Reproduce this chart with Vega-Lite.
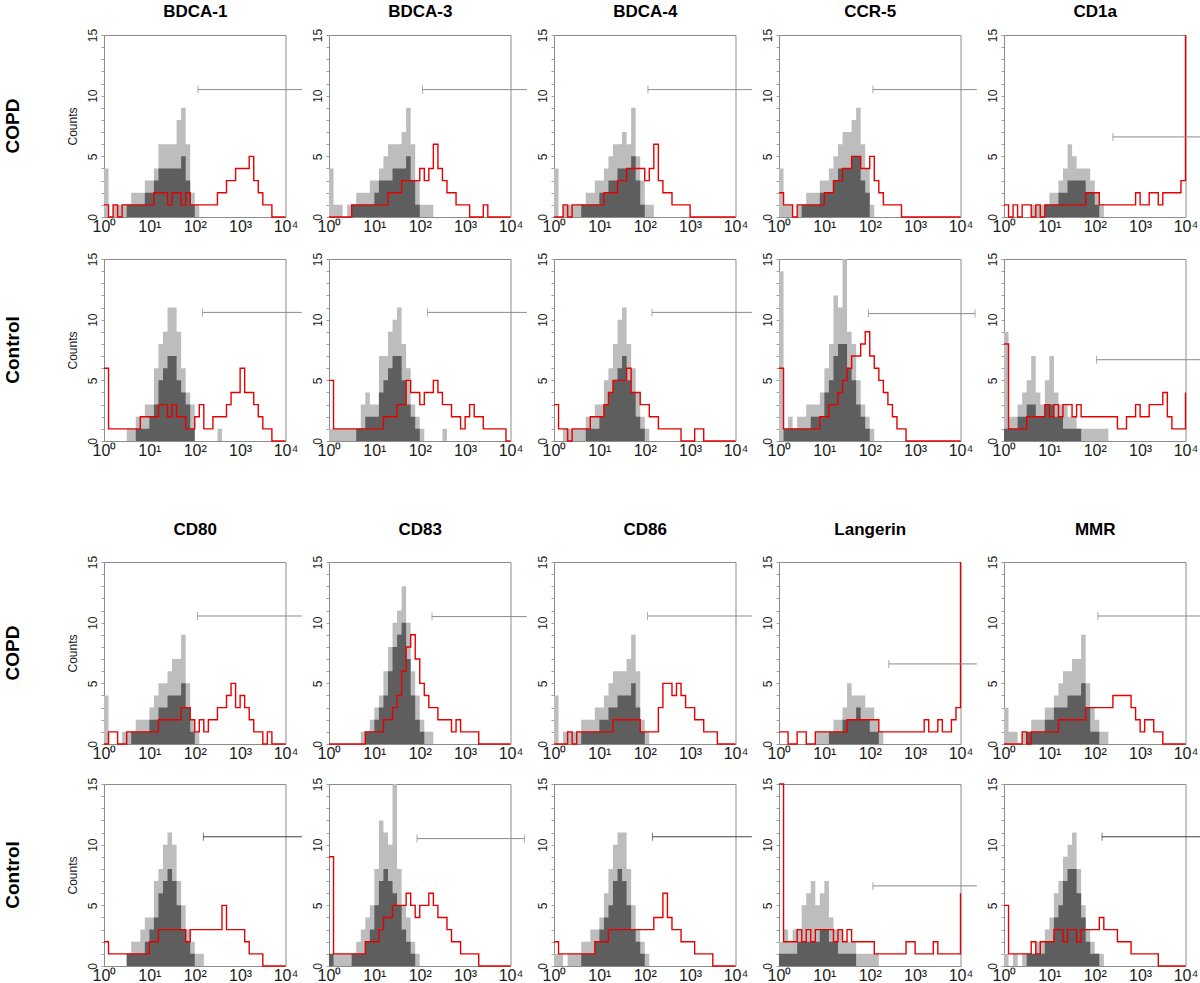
{
"$schema": "https://vega.github.io/schema/vega-lite/v6.json",
"background": "white",
"padding": {"left": 3, "top": 1, "right": 0, "bottom": 0},
"datasets": {
"A1": [{"x":0,"g":0,"m":4,"r":1},{"x":0.1,"g":0,"m":0,"r":0},{"x":0.2,"g":0,"m":1,"r":1},{"x":0.3,"g":0,"m":1,"r":0},{"x":0.4,"g":0,"m":1,"r":1},{"x":0.5,"g":1,"m":1,"r":1},{"x":0.6,"g":1,"m":2,"r":1},{"x":0.7,"g":1,"m":2,"r":1},{"x":0.8,"g":1,"m":2,"r":1},{"x":0.9,"g":2,"m":3,"r":1},{"x":1,"g":2,"m":3,"r":1},{"x":1.1,"g":3,"m":4,"r":2},{"x":1.2,"g":4,"m":6,"r":2},{"x":1.3,"g":4,"m":6,"r":2},{"x":1.4,"g":4,"m":6,"r":1},{"x":1.5,"g":4,"m":6,"r":2},{"x":1.6,"g":4,"m":8,"r":2},{"x":1.7,"g":5,"m":9,"r":1},{"x":1.8,"g":3,"m":6,"r":2},{"x":1.9,"g":1,"m":2,"r":1},{"x":2,"g":0,"m":1,"r":1},{"x":2.1,"g":0,"m":0,"r":1},{"x":2.2,"g":0,"m":0,"r":1},{"x":2.3,"r":1},{"x":2.4,"r":1},{"x":2.5,"r":2},{"x":2.6,"r":2},{"x":2.7,"r":3},{"x":2.8,"r":3},{"x":2.9,"r":4},{"x":3,"r":4},{"x":3.1,"r":4},{"x":3.2,"r":5},{"x":3.3,"r":3},{"x":3.4,"r":2},{"x":3.5,"r":1},{"x":3.6,"r":1},{"x":3.7,"r":0},{"x":3.8,"r":0},{"x":3.9,"r":0},{"x":4,"r":0},{"gx":2.07,"gx2":4.36,"gy":10.5}],
"A2": [{"x":0,"g":0,"m":4,"r":0},{"x":0.1,"g":0,"m":1,"r":0},{"x":0.2,"g":0,"m":1,"r":0},{"x":0.3,"g":0,"m":0,"r":0},{"x":0.4,"g":0,"m":1,"r":0},{"x":0.5,"g":1,"m":1,"r":1},{"x":0.6,"g":1,"m":2,"r":1},{"x":0.7,"g":1,"m":2,"r":1},{"x":0.8,"g":1,"m":2,"r":1},{"x":0.9,"g":1,"m":3,"r":1},{"x":1,"g":2,"m":3,"r":1},{"x":1.1,"g":3,"m":4,"r":1},{"x":1.2,"g":3,"m":5,"r":1},{"x":1.3,"g":3,"m":6,"r":2},{"x":1.4,"g":4,"m":6,"r":2},{"x":1.5,"g":4,"m":6,"r":2},{"x":1.6,"g":4,"m":7,"r":3},{"x":1.7,"g":5,"m":9,"r":3},{"x":1.8,"g":3,"m":6,"r":3},{"x":1.9,"g":1,"m":3,"r":3},{"x":2,"g":0,"m":1,"r":4},{"x":2.1,"g":0,"m":1,"r":3},{"x":2.2,"g":0,"m":1,"r":4},{"x":2.3,"g":0,"m":0,"r":6},{"x":2.4,"r":4},{"x":2.5,"r":3},{"x":2.6,"r":2},{"x":2.7,"r":2},{"x":2.8,"r":1},{"x":2.9,"r":1},{"x":3,"r":1},{"x":3.1,"r":0},{"x":3.2,"r":0},{"x":3.3,"r":0},{"x":3.4,"r":1},{"x":3.5,"r":0},{"x":3.6,"r":0},{"x":3.7,"r":0},{"x":3.8,"r":0},{"x":3.9,"r":0},{"x":4,"r":0},{"gx":2.06,"gx2":4.36,"gy":10.5}],
"A3": [{"x":0,"g":0,"m":4,"r":0},{"x":0.1,"g":0,"m":0,"r":0},{"x":0.2,"g":0,"m":1,"r":1},{"x":0.3,"g":0,"m":1,"r":0},{"x":0.4,"g":0,"m":1,"r":1},{"x":0.5,"g":0,"m":1,"r":1},{"x":0.6,"g":1,"m":1,"r":1},{"x":0.7,"g":1,"m":2,"r":1},{"x":0.8,"g":1,"m":2,"r":1},{"x":0.9,"g":1,"m":3,"r":1},{"x":1,"g":2,"m":3,"r":1},{"x":1.1,"g":2,"m":4,"r":2},{"x":1.2,"g":3,"m":5,"r":2},{"x":1.3,"g":3,"m":6,"r":2},{"x":1.4,"g":4,"m":6,"r":3},{"x":1.5,"g":4,"m":7,"r":3},{"x":1.6,"g":4,"m":6,"r":4},{"x":1.7,"g":5,"m":9,"r":4},{"x":1.8,"g":3,"m":5,"r":4},{"x":1.9,"g":1,"m":3,"r":4},{"x":2,"g":0,"m":1,"r":3},{"x":2.1,"g":0,"m":1,"r":4},{"x":2.2,"g":0,"m":0,"r":6},{"x":2.3,"r":3},{"x":2.4,"r":2},{"x":2.5,"r":2},{"x":2.6,"r":1},{"x":2.7,"r":1},{"x":2.8,"r":1},{"x":2.9,"r":1},{"x":3,"r":0},{"x":3.1,"r":0},{"x":3.2,"r":0},{"x":3.3,"r":0},{"x":3.4,"r":0},{"x":3.5,"r":0},{"x":3.6,"r":0},{"x":3.7,"r":0},{"x":3.8,"r":0},{"x":3.9,"r":0},{"x":4,"r":0},{"gx":2.07,"gx2":4.36,"gy":10.5}],
"A4": [{"x":0,"g":0,"m":4,"r":2},{"x":0.1,"g":0,"m":1,"r":1},{"x":0.2,"g":0,"m":1,"r":1},{"x":0.3,"g":0,"m":0,"r":0},{"x":0.4,"g":0,"m":1,"r":1},{"x":0.5,"g":1,"m":1,"r":1},{"x":0.6,"g":1,"m":2,"r":1},{"x":0.7,"g":1,"m":2,"r":1},{"x":0.8,"g":1,"m":2,"r":1},{"x":0.9,"g":2,"m":3,"r":1},{"x":1,"g":2,"m":3,"r":2},{"x":1.1,"g":2,"m":4,"r":2},{"x":1.2,"g":3,"m":5,"r":3},{"x":1.3,"g":4,"m":6,"r":3},{"x":1.4,"g":4,"m":7,"r":4},{"x":1.5,"g":4,"m":7,"r":4},{"x":1.6,"g":5,"m":8,"r":5},{"x":1.7,"g":5,"m":9,"r":5},{"x":1.8,"g":3,"m":6,"r":4},{"x":1.9,"g":2,"m":4,"r":4},{"x":2,"g":0,"m":1,"r":5},{"x":2.1,"g":0,"m":0,"r":3},{"x":2.2,"r":2},{"x":2.3,"r":1},{"x":2.4,"r":1},{"x":2.5,"r":1},{"x":2.6,"r":1},{"x":2.7,"r":0},{"x":2.8,"r":0},{"x":2.9,"r":0},{"x":3,"r":0},{"x":3.1,"r":0},{"x":3.2,"r":0},{"x":3.3,"r":0},{"x":3.4,"r":0},{"x":3.5,"r":0},{"x":3.6,"r":0},{"x":3.7,"r":0},{"x":3.8,"r":0},{"x":3.9,"r":0},{"x":4,"r":0},{"gx":2.07,"gx2":4.36,"gy":10.5}],
"A5": [{"x":0,"g":0,"m":0,"r":1},{"x":0.1,"g":0,"m":0,"r":0},{"x":0.2,"g":0,"m":0,"r":1},{"x":0.3,"g":0,"m":0,"r":0},{"x":0.4,"g":0,"m":0,"r":1},{"x":0.5,"g":0,"m":0,"r":1},{"x":0.6,"g":0,"m":1,"r":0},{"x":0.7,"g":0,"m":1,"r":1},{"x":0.8,"g":0,"m":1,"r":0},{"x":0.9,"g":1,"m":1,"r":1},{"x":1,"g":1,"m":2,"r":1},{"x":1.1,"g":1,"m":2,"r":1},{"x":1.2,"g":2,"m":3,"r":1},{"x":1.3,"g":2,"m":4,"r":1},{"x":1.4,"g":3,"m":6,"r":1},{"x":1.5,"g":3,"m":5,"r":1},{"x":1.6,"g":3,"m":4,"r":1},{"x":1.7,"g":3,"m":4,"r":1},{"x":1.8,"g":2,"m":4,"r":2},{"x":1.9,"g":2,"m":3,"r":2},{"x":2,"g":1,"m":2,"r":2},{"x":2.1,"g":0,"m":1,"r":1},{"x":2.2,"g":0,"m":0,"r":1},{"x":2.3,"r":1},{"x":2.4,"r":1},{"x":2.5,"r":1},{"x":2.6,"r":1},{"x":2.7,"r":1},{"x":2.8,"r":1},{"x":2.9,"r":2},{"x":3,"r":1},{"x":3.1,"r":1},{"x":3.2,"r":2},{"x":3.3,"r":2},{"x":3.4,"r":1},{"x":3.5,"r":2},{"x":3.6,"r":2},{"x":3.7,"r":2},{"x":3.8,"r":2},{"x":3.9,"r":3},{"x":4,"r":15},{"gx":2.4,"gx2":4.36,"gy":6.6}],
"B1": [{"x":0,"g":0,"m":0,"r":6},{"x":0.1,"g":0,"m":0,"r":1},{"x":0.2,"g":0,"m":0,"r":1},{"x":0.3,"g":0,"m":0,"r":1},{"x":0.4,"g":0,"m":0,"r":1},{"x":0.5,"g":0,"m":1,"r":1},{"x":0.6,"g":0,"m":1,"r":1},{"x":0.7,"g":1,"m":2,"r":1},{"x":0.8,"g":1,"m":2,"r":2},{"x":0.9,"g":1,"m":3,"r":2},{"x":1,"g":2,"m":3,"r":2},{"x":1.1,"g":3,"m":6,"r":2},{"x":1.2,"g":5,"m":8,"r":3},{"x":1.3,"g":6,"m":9,"r":3},{"x":1.4,"g":7,"m":11,"r":2},{"x":1.5,"g":7,"m":11,"r":3},{"x":1.6,"g":5,"m":9,"r":2},{"x":1.7,"g":4,"m":6,"r":2},{"x":1.8,"g":3,"m":4,"r":1},{"x":1.9,"g":1,"m":3,"r":1},{"x":2,"g":0,"m":0,"r":2},{"x":2.1,"g":0,"m":0,"r":3},{"x":2.2,"g":0,"m":0,"r":1},{"x":2.3,"g":0,"m":0,"r":1},{"x":2.4,"g":0,"m":0,"r":2},{"x":2.5,"g":0,"m":1,"r":2},{"x":2.6,"g":0,"m":0,"r":2},{"x":2.7,"r":3},{"x":2.8,"r":4},{"x":2.9,"r":4},{"x":3,"r":6},{"x":3.1,"r":4},{"x":3.2,"r":4},{"x":3.3,"r":3},{"x":3.4,"r":2},{"x":3.5,"r":1},{"x":3.6,"r":1},{"x":3.7,"r":0},{"x":3.8,"r":0},{"x":3.9,"r":0},{"x":4,"r":0},{"gx":2.17,"gx2":4.36,"gy":10.6}],
"B2": [{"x":0,"g":0,"m":1,"r":5},{"x":0.1,"g":0,"m":1,"r":1},{"x":0.2,"g":0,"m":1,"r":1},{"x":0.3,"g":0,"m":1,"r":1},{"x":0.4,"g":0,"m":1,"r":1},{"x":0.5,"g":0,"m":1,"r":1},{"x":0.6,"g":1,"m":1,"r":1},{"x":0.7,"g":1,"m":3,"r":1},{"x":0.8,"g":2,"m":4,"r":1},{"x":0.9,"g":2,"m":3,"r":1},{"x":1,"g":2,"m":3,"r":1},{"x":1.1,"g":4,"m":7,"r":1},{"x":1.2,"g":5,"m":7,"r":2},{"x":1.3,"g":6,"m":9,"r":2},{"x":1.4,"g":7,"m":10,"r":2},{"x":1.5,"g":7,"m":11,"r":3},{"x":1.6,"g":5,"m":8,"r":3},{"x":1.7,"g":3,"m":6,"r":5},{"x":1.8,"g":2,"m":3,"r":4},{"x":1.9,"g":1,"m":2,"r":4},{"x":2,"g":0,"m":1,"r":3},{"x":2.1,"g":0,"m":0,"r":4},{"x":2.2,"g":0,"m":0,"r":4},{"x":2.3,"g":0,"m":0,"r":5},{"x":2.4,"g":0,"m":0,"r":4},{"x":2.5,"g":0,"m":1,"r":3},{"x":2.6,"g":0,"m":0,"r":3},{"x":2.7,"r":2},{"x":2.8,"r":2},{"x":2.9,"r":1},{"x":3,"r":2},{"x":3.1,"r":3},{"x":3.2,"r":2},{"x":3.3,"r":2},{"x":3.4,"r":1},{"x":3.5,"r":1},{"x":3.6,"r":1},{"x":3.7,"r":1},{"x":3.8,"r":1},{"x":3.9,"r":0},{"x":4,"r":0},{"gx":2.17,"gx2":4.36,"gy":10.6}],
"B3": [{"x":0,"g":0,"m":0,"r":3},{"x":0.1,"g":0,"m":0,"r":1},{"x":0.2,"g":0,"m":1,"r":1},{"x":0.3,"g":0,"m":1,"r":0},{"x":0.4,"g":0,"m":1,"r":1},{"x":0.5,"g":0,"m":1,"r":1},{"x":0.6,"g":0,"m":1,"r":1},{"x":0.7,"g":1,"m":2,"r":1},{"x":0.8,"g":1,"m":2,"r":2},{"x":0.9,"g":1,"m":3,"r":2},{"x":1,"g":2,"m":3,"r":2},{"x":1.1,"g":3,"m":5,"r":3},{"x":1.2,"g":4,"m":6,"r":4},{"x":1.3,"g":5,"m":8,"r":5},{"x":1.4,"g":6,"m":10,"r":5},{"x":1.5,"g":7,"m":11,"r":5},{"x":1.6,"g":5,"m":8,"r":6},{"x":1.7,"g":4,"m":6,"r":4},{"x":1.8,"g":2,"m":4,"r":4},{"x":1.9,"g":1,"m":2,"r":3},{"x":2,"g":0,"m":1,"r":3},{"x":2.1,"g":0,"m":0,"r":2},{"x":2.2,"r":2},{"x":2.3,"r":1},{"x":2.4,"r":1},{"x":2.5,"r":1},{"x":2.6,"r":1},{"x":2.7,"r":1},{"x":2.8,"r":0},{"x":2.9,"r":0},{"x":3,"r":0},{"x":3.1,"r":1},{"x":3.2,"r":1},{"x":3.3,"r":0},{"x":3.4,"r":0},{"x":3.5,"r":0},{"x":3.6,"r":0},{"x":3.7,"r":0},{"x":3.8,"r":0},{"x":3.9,"r":0},{"x":4,"r":0},{"gx":2.16,"gx2":4.36,"gy":10.6}],
"B4": [{"x":0,"g":0,"m":14,"r":6},{"x":0.1,"g":1,"m":1,"r":1},{"x":0.2,"g":1,"m":2,"r":1},{"x":0.3,"g":1,"m":1,"r":1},{"x":0.4,"g":1,"m":2,"r":1},{"x":0.5,"g":1,"m":2,"r":1},{"x":0.6,"g":1,"m":3,"r":1},{"x":0.7,"g":2,"m":3,"r":1},{"x":0.8,"g":2,"m":3,"r":1},{"x":0.9,"g":2,"m":4,"r":2},{"x":1,"g":4,"m":6,"r":2},{"x":1.1,"g":5,"m":8,"r":3},{"x":1.2,"g":7,"m":12,"r":3},{"x":1.3,"g":8,"m":11,"r":4},{"x":1.4,"g":8,"m":15,"r":5},{"x":1.5,"g":6,"m":9,"r":6},{"x":1.6,"g":5,"m":8,"r":7},{"x":1.7,"g":3,"m":5,"r":7},{"x":1.8,"g":2,"m":3,"r":8},{"x":1.9,"g":1,"m":2,"r":9},{"x":2,"g":0,"m":1,"r":7},{"x":2.1,"g":0,"m":0,"r":6},{"x":2.2,"r":5},{"x":2.3,"r":4},{"x":2.4,"r":3},{"x":2.5,"r":2},{"x":2.6,"r":1},{"x":2.7,"r":1},{"x":2.8,"r":0},{"x":2.9,"r":0},{"x":3,"r":0},{"x":3.1,"r":0},{"x":3.2,"r":0},{"x":3.3,"r":0},{"x":3.4,"r":0},{"x":3.5,"r":0},{"x":3.6,"r":0},{"x":3.7,"r":0},{"x":3.8,"r":0},{"x":3.9,"r":0},{"x":4,"r":0},{"gx":1.97,"gx2":4.32,"gy":10.5,"ge":4.32}],
"B5": [{"x":0,"g":1,"m":9,"r":8},{"x":0.1,"g":1,"m":2,"r":1},{"x":0.2,"g":1,"m":2,"r":1},{"x":0.3,"g":2,"m":3,"r":1},{"x":0.4,"g":2,"m":4,"r":1},{"x":0.5,"g":3,"m":5,"r":2},{"x":0.6,"g":3,"m":7,"r":2},{"x":0.7,"g":2,"m":4,"r":2},{"x":0.8,"g":2,"m":3,"r":2},{"x":0.9,"g":3,"m":5,"r":3},{"x":1,"g":3,"m":7,"r":2},{"x":1.1,"g":2,"m":4,"r":3},{"x":1.2,"g":2,"m":3,"r":2},{"x":1.3,"g":1,"m":3,"r":3},{"x":1.4,"g":1,"m":2,"r":3},{"x":1.5,"g":1,"m":2,"r":2},{"x":1.6,"g":1,"m":1,"r":3},{"x":1.7,"g":0,"m":1,"r":2},{"x":1.8,"g":0,"m":1,"r":2},{"x":1.9,"g":0,"m":1,"r":2},{"x":2,"g":0,"m":1,"r":2},{"x":2.1,"g":0,"m":1,"r":2},{"x":2.2,"g":0,"m":1,"r":2},{"x":2.3,"g":0,"m":0,"r":2},{"x":2.4,"r":2},{"x":2.5,"r":1},{"x":2.6,"r":1},{"x":2.7,"r":2},{"x":2.8,"r":2},{"x":2.9,"r":3},{"x":3,"r":2},{"x":3.1,"r":2},{"x":3.2,"r":3},{"x":3.3,"r":3},{"x":3.4,"r":3},{"x":3.5,"r":4},{"x":3.6,"r":2},{"x":3.7,"r":1},{"x":3.8,"r":1},{"x":3.9,"r":1},{"x":4,"r":4},{"gx":2.04,"gx2":4.36,"gy":6.7}],
"C1": [{"x":0,"g":0,"m":4,"r":0},{"x":0.1,"g":0,"m":0,"r":1},{"x":0.2,"g":0,"m":0,"r":1},{"x":0.3,"g":0,"m":0,"r":0},{"x":0.4,"g":0,"m":1,"r":0},{"x":0.5,"g":0,"m":1,"r":1},{"x":0.6,"g":1,"m":1,"r":1},{"x":0.7,"g":1,"m":2,"r":1},{"x":0.8,"g":1,"m":2,"r":1},{"x":0.9,"g":1,"m":2,"r":1},{"x":1,"g":2,"m":3,"r":1},{"x":1.1,"g":2,"m":4,"r":1},{"x":1.2,"g":3,"m":5,"r":2},{"x":1.3,"g":3,"m":5,"r":2},{"x":1.4,"g":4,"m":6,"r":2},{"x":1.5,"g":4,"m":7,"r":2},{"x":1.6,"g":4,"m":7,"r":2},{"x":1.7,"g":5,"m":9,"r":3},{"x":1.8,"g":3,"m":5,"r":3},{"x":1.9,"g":1,"m":2,"r":2},{"x":2,"g":0,"m":1,"r":1},{"x":2.1,"g":0,"m":0,"r":2},{"x":2.2,"r":1},{"x":2.3,"r":2},{"x":2.4,"r":2},{"x":2.5,"r":3},{"x":2.6,"r":3},{"x":2.7,"r":4},{"x":2.8,"r":5},{"x":2.9,"r":3},{"x":3,"r":4},{"x":3.1,"r":3},{"x":3.2,"r":2},{"x":3.3,"r":1},{"x":3.4,"r":1},{"x":3.5,"r":0},{"x":3.6,"r":1},{"x":3.7,"r":0},{"x":3.8,"r":0},{"x":3.9,"r":0},{"x":4,"r":0},{"gx":2.06,"gx2":4.36,"gy":10.55}],
"C2": [{"x":0,"g":0,"m":0,"r":0},{"x":0.1,"g":0,"m":0,"r":0},{"x":0.2,"g":0,"m":0,"r":0},{"x":0.3,"g":0,"m":0,"r":0},{"x":0.4,"g":0,"m":0,"r":0},{"x":0.5,"g":0,"m":0,"r":0},{"x":0.6,"g":0,"m":0,"r":0},{"x":0.7,"g":0,"m":1,"r":0},{"x":0.8,"g":1,"m":1,"r":1},{"x":0.9,"g":1,"m":2,"r":1},{"x":1,"g":2,"m":3,"r":1},{"x":1.1,"g":3,"m":4,"r":1},{"x":1.2,"g":4,"m":6,"r":2},{"x":1.3,"g":6,"m":8,"r":2},{"x":1.4,"g":8,"m":10,"r":3},{"x":1.5,"g":9,"m":11,"r":4},{"x":1.6,"g":10,"m":13,"r":6},{"x":1.7,"g":7,"m":10,"r":8},{"x":1.8,"g":4,"m":6,"r":9},{"x":1.9,"g":2,"m":4,"r":7},{"x":2,"g":1,"m":2,"r":5},{"x":2.1,"g":0,"m":1,"r":4},{"x":2.2,"g":0,"m":1,"r":3},{"x":2.3,"g":0,"m":0,"r":3},{"x":2.4,"r":2},{"x":2.5,"r":2},{"x":2.6,"r":2},{"x":2.7,"r":1},{"x":2.8,"r":2},{"x":2.9,"r":1},{"x":3,"r":1},{"x":3.1,"r":1},{"x":3.2,"r":1},{"x":3.3,"r":0},{"x":3.4,"r":0},{"x":3.5,"r":0},{"x":3.6,"r":0},{"x":3.7,"r":0},{"x":3.8,"r":0},{"x":3.9,"r":0},{"x":4,"r":0},{"gx":2.27,"gx2":4.36,"gy":10.5}],
"C3": [{"x":0,"g":0,"m":4,"r":0},{"x":0.1,"g":0,"m":0,"r":0},{"x":0.2,"g":0,"m":1,"r":0},{"x":0.3,"g":0,"m":1,"r":1},{"x":0.4,"g":0,"m":1,"r":0},{"x":0.5,"g":0,"m":1,"r":1},{"x":0.6,"g":1,"m":2,"r":1},{"x":0.7,"g":1,"m":2,"r":1},{"x":0.8,"g":1,"m":2,"r":1},{"x":0.9,"g":1,"m":3,"r":1},{"x":1,"g":2,"m":3,"r":1},{"x":1.1,"g":2,"m":4,"r":1},{"x":1.2,"g":3,"m":5,"r":1},{"x":1.3,"g":3,"m":6,"r":2},{"x":1.4,"g":4,"m":6,"r":2},{"x":1.5,"g":4,"m":6,"r":2},{"x":1.6,"g":4,"m":7,"r":2},{"x":1.7,"g":5,"m":9,"r":2},{"x":1.8,"g":3,"m":6,"r":2},{"x":1.9,"g":1,"m":2,"r":1},{"x":2,"g":0,"m":1,"r":1},{"x":2.1,"g":0,"m":0,"r":1},{"x":2.2,"r":1},{"x":2.3,"r":3},{"x":2.4,"r":5},{"x":2.5,"r":5},{"x":2.6,"r":4},{"x":2.7,"r":5},{"x":2.8,"r":4},{"x":2.9,"r":3},{"x":3,"r":3},{"x":3.1,"r":2},{"x":3.2,"r":2},{"x":3.3,"r":1},{"x":3.4,"r":1},{"x":3.5,"r":1},{"x":3.6,"r":0},{"x":3.7,"r":0},{"x":3.8,"r":0},{"x":3.9,"r":0},{"x":4,"r":0},{"gx":2.06,"gx2":4.36,"gy":10.55}],
"C4": [{"x":0,"g":0,"m":0,"r":1},{"x":0.1,"g":0,"m":0,"r":1},{"x":0.2,"g":0,"m":0,"r":0},{"x":0.3,"g":0,"m":0,"r":0},{"x":0.4,"g":0,"m":0,"r":1},{"x":0.5,"g":0,"m":0,"r":1},{"x":0.6,"g":0,"m":0,"r":0},{"x":0.7,"g":0,"m":0,"r":0},{"x":0.8,"g":0,"m":1,"r":1},{"x":0.9,"g":0,"m":1,"r":1},{"x":1,"g":0,"m":1,"r":1},{"x":1.1,"g":1,"m":1,"r":1},{"x":1.2,"g":1,"m":2,"r":1},{"x":1.3,"g":1,"m":2,"r":1},{"x":1.4,"g":2,"m":3,"r":1},{"x":1.5,"g":2,"m":5,"r":2},{"x":1.6,"g":2,"m":4,"r":2},{"x":1.7,"g":3,"m":4,"r":2},{"x":1.8,"g":2,"m":4,"r":2},{"x":1.9,"g":2,"m":3,"r":2},{"x":2,"g":1,"m":3,"r":2},{"x":2.1,"g":1,"m":2,"r":2},{"x":2.2,"g":0,"m":1,"r":1},{"x":2.3,"g":0,"m":0,"r":1},{"x":2.4,"r":1},{"x":2.5,"r":1},{"x":2.6,"r":1},{"x":2.7,"r":1},{"x":2.8,"r":1},{"x":2.9,"r":1},{"x":3,"r":1},{"x":3.1,"r":1},{"x":3.2,"r":2},{"x":3.3,"r":1},{"x":3.4,"r":1},{"x":3.5,"r":2},{"x":3.6,"r":1},{"x":3.7,"r":1},{"x":3.8,"r":2},{"x":3.9,"r":3},{"x":4,"r":15},{"gx":2.42,"gx2":4.36,"gy":6.6}],
"C5": [{"x":0,"g":0,"m":3,"r":0},{"x":0.1,"g":0,"m":1,"r":0},{"x":0.2,"g":0,"m":1,"r":0},{"x":0.3,"g":0,"m":0,"r":0},{"x":0.4,"g":0,"m":1,"r":1},{"x":0.5,"g":1,"m":1,"r":0},{"x":0.6,"g":1,"m":2,"r":1},{"x":0.7,"g":1,"m":2,"r":1},{"x":0.8,"g":1,"m":2,"r":1},{"x":0.9,"g":2,"m":3,"r":1},{"x":1,"g":2,"m":3,"r":1},{"x":1.1,"g":3,"m":4,"r":1},{"x":1.2,"g":3,"m":5,"r":2},{"x":1.3,"g":3,"m":6,"r":2},{"x":1.4,"g":4,"m":6,"r":2},{"x":1.5,"g":4,"m":7,"r":2},{"x":1.6,"g":4,"m":7,"r":2},{"x":1.7,"g":5,"m":9,"r":2},{"x":1.8,"g":3,"m":5,"r":3},{"x":1.9,"g":1,"m":3,"r":3},{"x":2,"g":1,"m":2,"r":3},{"x":2.1,"g":0,"m":1,"r":3},{"x":2.2,"g":0,"m":1,"r":3},{"x":2.3,"g":0,"m":0,"r":3},{"x":2.4,"r":4},{"x":2.5,"r":4},{"x":2.6,"r":4},{"x":2.7,"r":4},{"x":2.8,"r":3},{"x":2.9,"r":2},{"x":3,"r":1},{"x":3.1,"r":2},{"x":3.2,"r":2},{"x":3.3,"r":1},{"x":3.4,"r":1},{"x":3.5,"r":0},{"x":3.6,"r":0},{"x":3.7,"r":0},{"x":3.8,"r":0},{"x":3.9,"r":0},{"x":4,"r":0},{"gx":2.07,"gx2":4.36,"gy":10.55}],
"D1": [{"x":0,"g":0,"m":0,"r":2},{"x":0.1,"g":0,"m":0,"r":1},{"x":0.2,"g":0,"m":0,"r":1},{"x":0.3,"g":0,"m":0,"r":1},{"x":0.4,"g":0,"m":0,"r":1},{"x":0.5,"g":1,"m":1,"r":1},{"x":0.6,"g":1,"m":2,"r":1},{"x":0.7,"g":1,"m":2,"r":1},{"x":0.8,"g":1,"m":3,"r":1},{"x":0.9,"g":2,"m":4,"r":1},{"x":1,"g":3,"m":4,"r":2},{"x":1.1,"g":4,"m":7,"r":2},{"x":1.2,"g":6,"m":8,"r":3},{"x":1.3,"g":7,"m":10,"r":3},{"x":1.4,"g":8,"m":11,"r":3},{"x":1.5,"g":7,"m":10,"r":3},{"x":1.6,"g":5,"m":7,"r":3},{"x":1.7,"g":3,"m":5,"r":3},{"x":1.8,"g":2,"m":3,"r":2},{"x":1.9,"g":1,"m":2,"r":3},{"x":2,"g":0,"m":1,"r":3},{"x":2.1,"g":0,"m":1,"r":3},{"x":2.2,"g":0,"m":0,"r":3},{"x":2.3,"r":3},{"x":2.4,"r":3},{"x":2.5,"r":3},{"x":2.6,"r":5},{"x":2.7,"r":3},{"x":2.8,"r":3},{"x":2.9,"r":3},{"x":3,"r":3},{"x":3.1,"r":2},{"x":3.2,"r":1},{"x":3.3,"r":1},{"x":3.4,"r":1},{"x":3.5,"r":0},{"x":3.6,"r":0},{"x":3.7,"r":0},{"x":3.8,"r":0},{"x":3.9,"r":0},{"x":4,"r":0},{"gx":2.19,"gx2":4.36,"gy":10.65}],
"D2": [{"x":0,"g":1,"m":1,"r":9},{"x":0.1,"g":0,"m":1,"r":1},{"x":0.2,"g":0,"m":1,"r":1},{"x":0.3,"g":0,"m":1,"r":1},{"x":0.4,"g":0,"m":1,"r":1},{"x":0.5,"g":1,"m":1,"r":1},{"x":0.6,"g":1,"m":2,"r":1},{"x":0.7,"g":1,"m":3,"r":1},{"x":0.8,"g":2,"m":4,"r":2},{"x":0.9,"g":3,"m":5,"r":2},{"x":1,"g":5,"m":8,"r":2},{"x":1.1,"g":7,"m":12,"r":3},{"x":1.2,"g":8,"m":11,"r":4},{"x":1.3,"g":7,"m":10,"r":4},{"x":1.4,"g":6,"m":15,"r":5},{"x":1.5,"g":5,"m":8,"r":5},{"x":1.6,"g":3,"m":5,"r":5},{"x":1.7,"g":2,"m":4,"r":6},{"x":1.8,"g":1,"m":2,"r":5},{"x":1.9,"g":0,"m":1,"r":4},{"x":2,"g":0,"m":0,"r":5},{"x":2.1,"r":5},{"x":2.2,"r":6},{"x":2.3,"r":5},{"x":2.4,"r":4},{"x":2.5,"r":4},{"x":2.6,"r":3},{"x":2.7,"r":2},{"x":2.8,"r":2},{"x":2.9,"r":1},{"x":3,"r":1},{"x":3.1,"r":1},{"x":3.2,"r":1},{"x":3.3,"r":0},{"x":3.4,"r":0},{"x":3.5,"r":0},{"x":3.6,"r":0},{"x":3.7,"r":0},{"x":3.8,"r":0},{"x":3.9,"r":0},{"x":4,"r":0},{"gx":1.94,"gx2":4.31,"gy":10.5,"ge":4.31}],
"D3": [{"x":0,"g":0,"m":1,"r":2},{"x":0.1,"g":0,"m":1,"r":1},{"x":0.2,"g":0,"m":0,"r":1},{"x":0.3,"g":0,"m":1,"r":1},{"x":0.4,"g":0,"m":1,"r":1},{"x":0.5,"g":0,"m":1,"r":1},{"x":0.6,"g":1,"m":2,"r":1},{"x":0.7,"g":1,"m":2,"r":1},{"x":0.8,"g":1,"m":3,"r":1},{"x":0.9,"g":2,"m":3,"r":2},{"x":1,"g":3,"m":4,"r":2},{"x":1.1,"g":4,"m":6,"r":2},{"x":1.2,"g":5,"m":8,"r":3},{"x":1.3,"g":7,"m":10,"r":3},{"x":1.4,"g":8,"m":11,"r":3},{"x":1.5,"g":7,"m":11,"r":3},{"x":1.6,"g":5,"m":8,"r":3},{"x":1.7,"g":3,"m":5,"r":3},{"x":1.8,"g":2,"m":3,"r":3},{"x":1.9,"g":1,"m":2,"r":3},{"x":2,"g":0,"m":1,"r":3},{"x":2.1,"g":0,"m":0,"r":3},{"x":2.2,"r":4},{"x":2.3,"r":4},{"x":2.4,"r":6},{"x":2.5,"r":4},{"x":2.6,"r":3},{"x":2.7,"r":3},{"x":2.8,"r":2},{"x":2.9,"r":2},{"x":3,"r":2},{"x":3.1,"r":1},{"x":3.2,"r":1},{"x":3.3,"r":1},{"x":3.4,"r":1},{"x":3.5,"r":0},{"x":3.6,"r":0},{"x":3.7,"r":0},{"x":3.8,"r":0},{"x":3.9,"r":0},{"x":4,"r":0},{"gx":2.17,"gx2":4.36,"gy":10.65}],
"D4": [{"x":0,"g":1,"m":2,"r":15},{"x":0.1,"g":1,"m":3,"r":2},{"x":0.2,"g":1,"m":2,"r":2},{"x":0.3,"g":1,"m":3,"r":2},{"x":0.4,"g":2,"m":3,"r":3},{"x":0.5,"g":2,"m":5,"r":2},{"x":0.6,"g":2,"m":6,"r":3},{"x":0.7,"g":2,"m":7,"r":2},{"x":0.8,"g":2,"m":5,"r":3},{"x":0.9,"g":3,"m":6,"r":3},{"x":1,"g":3,"m":7,"r":3},{"x":1.1,"g":2,"m":4,"r":3},{"x":1.2,"g":2,"m":3,"r":2},{"x":1.3,"g":1,"m":3,"r":3},{"x":1.4,"g":1,"m":2,"r":2},{"x":1.5,"g":1,"m":2,"r":3},{"x":1.6,"g":1,"m":2,"r":2},{"x":1.7,"g":0,"m":1,"r":2},{"x":1.8,"g":0,"m":1,"r":2},{"x":1.9,"g":0,"m":1,"r":2},{"x":2,"g":0,"m":1,"r":2},{"x":2.1,"g":0,"m":1,"r":1},{"x":2.2,"g":0,"m":0,"r":1},{"x":2.3,"r":1},{"x":2.4,"r":1},{"x":2.5,"r":1},{"x":2.6,"r":1},{"x":2.7,"r":1},{"x":2.8,"r":2},{"x":2.9,"r":2},{"x":3,"r":1},{"x":3.1,"r":1},{"x":3.2,"r":1},{"x":3.3,"r":1},{"x":3.4,"r":2},{"x":3.5,"r":1},{"x":3.6,"r":1},{"x":3.7,"r":1},{"x":3.8,"r":1},{"x":3.9,"r":1},{"x":4,"r":6},{"gx":2.07,"gx2":4.36,"gy":6.6}],
"D5": [{"x":0,"g":0,"m":1,"r":5},{"x":0.1,"g":0,"m":0,"r":1},{"x":0.2,"g":0,"m":1,"r":1},{"x":0.3,"g":0,"m":0,"r":1},{"x":0.4,"g":0,"m":1,"r":1},{"x":0.5,"g":1,"m":1,"r":1},{"x":0.6,"g":1,"m":1,"r":2},{"x":0.7,"g":1,"m":2,"r":1},{"x":0.8,"g":1,"m":2,"r":2},{"x":0.9,"g":2,"m":3,"r":2},{"x":1,"g":2,"m":4,"r":2},{"x":1.1,"g":4,"m":6,"r":3},{"x":1.2,"g":5,"m":7,"r":3},{"x":1.3,"g":7,"m":9,"r":2},{"x":1.4,"g":8,"m":10,"r":3},{"x":1.5,"g":8,"m":11,"r":3},{"x":1.6,"g":6,"m":8,"r":2},{"x":1.7,"g":4,"m":5,"r":3},{"x":1.8,"g":2,"m":3,"r":3},{"x":1.9,"g":1,"m":2,"r":3},{"x":2,"g":1,"m":1,"r":3},{"x":2.1,"g":0,"m":1,"r":4},{"x":2.2,"g":0,"m":0,"r":3},{"x":2.3,"r":3},{"x":2.4,"r":3},{"x":2.5,"r":2},{"x":2.6,"r":2},{"x":2.7,"r":2},{"x":2.8,"r":1},{"x":2.9,"r":1},{"x":3,"r":1},{"x":3.1,"r":1},{"x":3.2,"r":1},{"x":3.3,"r":1},{"x":3.4,"r":0},{"x":3.5,"r":0},{"x":3.6,"r":0},{"x":3.7,"r":0},{"x":3.8,"r":0},{"x":3.9,"r":0},{"x":4,"r":0},{"gx":2.16,"gx2":4.36,"gy":10.65}]
},
"vconcat": [
{"concat": [
{"width":181.5,"height":182,"data":{"name":"A1"},"title":"COPD","resolve":{"axis":{"x":"independent","y":"independent"}},"layer":[
{"mark":{"type":"area","interpolate":"step-after","color":"#bdbdbd"},"encoding":{"x":{"field":"x","type":"quantitative","scale":{"domain":[0,4],"nice":false},"axis":{"values":[0,1,2,3,4],"labelExpr":"'10'+['⁰','¹','²','³','⁴'][datum.value]","title":null}},"y":{"field":"m","type":"quantitative","scale":{"domain":[0,15],"nice":false},"axis":{"values":[0,1,2,3,4,5,6,7,8,9,10,11,12,13,14,15],"labelExpr":"datum.value%5==0?datum.label:''","title":"Counts"}}}},
{"mark":{"type":"area","interpolate":"step-after","color":"#5e5e5e"},"encoding":{"x":{"field":"x","type":"quantitative","axis":null},"y":{"field":"g","type":"quantitative","axis":null}}},
{"mark":{"type":"line","interpolate":"step-after","color":"#e60000","strokeWidth":1.4},"encoding":{"x":{"field":"x","type":"quantitative","axis":null},"y":{"field":"r","type":"quantitative","axis":null}}},
{"mark":{"type":"rule","color":"#8a8a8a"},"encoding":{"x":{"field":"gx","type":"quantitative","axis":null},"x2":{"field":"gx2"},"y":{"field":"gy","type":"quantitative","axis":null}}},
{"mark":{"type":"tick","orient":"vertical","color":"#8a8a8a","size":8,"thickness":1},"encoding":{"x":{"field":"gx","type":"quantitative","axis":{"orient":"top","title":"BDCA-1","labels":false,"ticks":false,"domain":false,"titleFontSize":17,"titleFontWeight":"bold","titleColor":"#000000","titlePadding":15}},"y":{"field":"gy","type":"quantitative","axis":null}}}
]},
{"width":181.5,"height":182,"data":{"name":"A2"},"resolve":{"axis":{"x":"independent","y":"independent"}},"layer":[
{"mark":{"type":"area","interpolate":"step-after","color":"#bdbdbd"},"encoding":{"x":{"field":"x","type":"quantitative","scale":{"domain":[0,4],"nice":false},"axis":{"values":[0,1,2,3,4],"labelExpr":"'10'+['⁰','¹','²','³','⁴'][datum.value]","title":null}},"y":{"field":"m","type":"quantitative","scale":{"domain":[0,15],"nice":false},"axis":{"values":[0,1,2,3,4,5,6,7,8,9,10,11,12,13,14,15],"labelExpr":"datum.value%5==0?datum.label:''","title":null}}}},
{"mark":{"type":"area","interpolate":"step-after","color":"#5e5e5e"},"encoding":{"x":{"field":"x","type":"quantitative","axis":null},"y":{"field":"g","type":"quantitative","axis":null}}},
{"mark":{"type":"line","interpolate":"step-after","color":"#e60000","strokeWidth":1.4},"encoding":{"x":{"field":"x","type":"quantitative","axis":null},"y":{"field":"r","type":"quantitative","axis":null}}},
{"mark":{"type":"rule","color":"#8a8a8a"},"encoding":{"x":{"field":"gx","type":"quantitative","axis":null},"x2":{"field":"gx2"},"y":{"field":"gy","type":"quantitative","axis":null}}},
{"mark":{"type":"tick","orient":"vertical","color":"#8a8a8a","size":8,"thickness":1},"encoding":{"x":{"field":"gx","type":"quantitative","axis":{"orient":"top","title":"BDCA-3","labels":false,"ticks":false,"domain":false,"titleFontSize":17,"titleFontWeight":"bold","titleColor":"#000000","titlePadding":15}},"y":{"field":"gy","type":"quantitative","axis":null}}}
]},
{"width":181.5,"height":182,"data":{"name":"A3"},"resolve":{"axis":{"x":"independent","y":"independent"}},"layer":[
{"mark":{"type":"area","interpolate":"step-after","color":"#bdbdbd"},"encoding":{"x":{"field":"x","type":"quantitative","scale":{"domain":[0,4],"nice":false},"axis":{"values":[0,1,2,3,4],"labelExpr":"'10'+['⁰','¹','²','³','⁴'][datum.value]","title":null}},"y":{"field":"m","type":"quantitative","scale":{"domain":[0,15],"nice":false},"axis":{"values":[0,1,2,3,4,5,6,7,8,9,10,11,12,13,14,15],"labelExpr":"datum.value%5==0?datum.label:''","title":null}}}},
{"mark":{"type":"area","interpolate":"step-after","color":"#5e5e5e"},"encoding":{"x":{"field":"x","type":"quantitative","axis":null},"y":{"field":"g","type":"quantitative","axis":null}}},
{"mark":{"type":"line","interpolate":"step-after","color":"#e60000","strokeWidth":1.4},"encoding":{"x":{"field":"x","type":"quantitative","axis":null},"y":{"field":"r","type":"quantitative","axis":null}}},
{"mark":{"type":"rule","color":"#8a8a8a"},"encoding":{"x":{"field":"gx","type":"quantitative","axis":null},"x2":{"field":"gx2"},"y":{"field":"gy","type":"quantitative","axis":null}}},
{"mark":{"type":"tick","orient":"vertical","color":"#8a8a8a","size":8,"thickness":1},"encoding":{"x":{"field":"gx","type":"quantitative","axis":{"orient":"top","title":"BDCA-4","labels":false,"ticks":false,"domain":false,"titleFontSize":17,"titleFontWeight":"bold","titleColor":"#000000","titlePadding":15}},"y":{"field":"gy","type":"quantitative","axis":null}}}
]},
{"width":181.5,"height":182,"data":{"name":"A4"},"resolve":{"axis":{"x":"independent","y":"independent"}},"layer":[
{"mark":{"type":"area","interpolate":"step-after","color":"#bdbdbd"},"encoding":{"x":{"field":"x","type":"quantitative","scale":{"domain":[0,4],"nice":false},"axis":{"values":[0,1,2,3,4],"labelExpr":"'10'+['⁰','¹','²','³','⁴'][datum.value]","title":null}},"y":{"field":"m","type":"quantitative","scale":{"domain":[0,15],"nice":false},"axis":{"values":[0,1,2,3,4,5,6,7,8,9,10,11,12,13,14,15],"labelExpr":"datum.value%5==0?datum.label:''","title":null}}}},
{"mark":{"type":"area","interpolate":"step-after","color":"#5e5e5e"},"encoding":{"x":{"field":"x","type":"quantitative","axis":null},"y":{"field":"g","type":"quantitative","axis":null}}},
{"mark":{"type":"line","interpolate":"step-after","color":"#e60000","strokeWidth":1.4},"encoding":{"x":{"field":"x","type":"quantitative","axis":null},"y":{"field":"r","type":"quantitative","axis":null}}},
{"mark":{"type":"rule","color":"#8a8a8a"},"encoding":{"x":{"field":"gx","type":"quantitative","axis":null},"x2":{"field":"gx2"},"y":{"field":"gy","type":"quantitative","axis":null}}},
{"mark":{"type":"tick","orient":"vertical","color":"#8a8a8a","size":8,"thickness":1},"encoding":{"x":{"field":"gx","type":"quantitative","axis":{"orient":"top","title":"CCR-5","labels":false,"ticks":false,"domain":false,"titleFontSize":17,"titleFontWeight":"bold","titleColor":"#000000","titlePadding":15}},"y":{"field":"gy","type":"quantitative","axis":null}}}
]},
{"width":181.5,"height":182,"data":{"name":"A5"},"resolve":{"axis":{"x":"independent","y":"independent"}},"layer":[
{"mark":{"type":"area","interpolate":"step-after","color":"#bdbdbd"},"encoding":{"x":{"field":"x","type":"quantitative","scale":{"domain":[0,4],"nice":false},"axis":{"values":[0,1,2,3,4],"labelExpr":"'10'+['⁰','¹','²','³','⁴'][datum.value]","title":null}},"y":{"field":"m","type":"quantitative","scale":{"domain":[0,15],"nice":false},"axis":{"values":[0,1,2,3,4,5,6,7,8,9,10,11,12,13,14,15],"labelExpr":"datum.value%5==0?datum.label:''","title":null}}}},
{"mark":{"type":"area","interpolate":"step-after","color":"#5e5e5e"},"encoding":{"x":{"field":"x","type":"quantitative","axis":null},"y":{"field":"g","type":"quantitative","axis":null}}},
{"mark":{"type":"line","interpolate":"step-after","color":"#e60000","strokeWidth":1.4},"encoding":{"x":{"field":"x","type":"quantitative","axis":null},"y":{"field":"r","type":"quantitative","axis":null}}},
{"mark":{"type":"rule","color":"#8a8a8a"},"encoding":{"x":{"field":"gx","type":"quantitative","axis":null},"x2":{"field":"gx2"},"y":{"field":"gy","type":"quantitative","axis":null}}},
{"mark":{"type":"tick","orient":"vertical","color":"#8a8a8a","size":8,"thickness":1},"encoding":{"x":{"field":"gx","type":"quantitative","axis":{"orient":"top","title":"CD1a","labels":false,"ticks":false,"domain":false,"titleFontSize":17,"titleFontWeight":"bold","titleColor":"#000000","titlePadding":15}},"y":{"field":"gy","type":"quantitative","axis":null}}}
]},
{"width":181.5,"height":182,"data":{"name":"B1"},"title":"Control","resolve":{"axis":{"x":"independent","y":"independent"}},"layer":[
{"mark":{"type":"area","interpolate":"step-after","color":"#bdbdbd"},"encoding":{"x":{"field":"x","type":"quantitative","scale":{"domain":[0,4],"nice":false},"axis":{"values":[0,1,2,3,4],"labelExpr":"'10'+['⁰','¹','²','³','⁴'][datum.value]","title":null}},"y":{"field":"m","type":"quantitative","scale":{"domain":[0,15],"nice":false},"axis":{"values":[0,1,2,3,4,5,6,7,8,9,10,11,12,13,14,15],"labelExpr":"datum.value%5==0?datum.label:''","title":"Counts"}}}},
{"mark":{"type":"area","interpolate":"step-after","color":"#5e5e5e"},"encoding":{"x":{"field":"x","type":"quantitative","axis":null},"y":{"field":"g","type":"quantitative","axis":null}}},
{"mark":{"type":"line","interpolate":"step-after","color":"#e60000","strokeWidth":1.4},"encoding":{"x":{"field":"x","type":"quantitative","axis":null},"y":{"field":"r","type":"quantitative","axis":null}}},
{"mark":{"type":"rule","color":"#8a8a8a"},"encoding":{"x":{"field":"gx","type":"quantitative","axis":null},"x2":{"field":"gx2"},"y":{"field":"gy","type":"quantitative","axis":null}}},
{"mark":{"type":"tick","orient":"vertical","color":"#8a8a8a","size":8,"thickness":1},"encoding":{"x":{"field":"gx","type":"quantitative","axis":null},"y":{"field":"gy","type":"quantitative","axis":null}}}
]},
{"width":181.5,"height":182,"data":{"name":"B2"},"resolve":{"axis":{"x":"independent","y":"independent"}},"layer":[
{"mark":{"type":"area","interpolate":"step-after","color":"#bdbdbd"},"encoding":{"x":{"field":"x","type":"quantitative","scale":{"domain":[0,4],"nice":false},"axis":{"values":[0,1,2,3,4],"labelExpr":"'10'+['⁰','¹','²','³','⁴'][datum.value]","title":null}},"y":{"field":"m","type":"quantitative","scale":{"domain":[0,15],"nice":false},"axis":{"values":[0,1,2,3,4,5,6,7,8,9,10,11,12,13,14,15],"labelExpr":"datum.value%5==0?datum.label:''","title":null}}}},
{"mark":{"type":"area","interpolate":"step-after","color":"#5e5e5e"},"encoding":{"x":{"field":"x","type":"quantitative","axis":null},"y":{"field":"g","type":"quantitative","axis":null}}},
{"mark":{"type":"line","interpolate":"step-after","color":"#e60000","strokeWidth":1.4},"encoding":{"x":{"field":"x","type":"quantitative","axis":null},"y":{"field":"r","type":"quantitative","axis":null}}},
{"mark":{"type":"rule","color":"#8a8a8a"},"encoding":{"x":{"field":"gx","type":"quantitative","axis":null},"x2":{"field":"gx2"},"y":{"field":"gy","type":"quantitative","axis":null}}},
{"mark":{"type":"tick","orient":"vertical","color":"#8a8a8a","size":8,"thickness":1},"encoding":{"x":{"field":"gx","type":"quantitative","axis":null},"y":{"field":"gy","type":"quantitative","axis":null}}}
]},
{"width":181.5,"height":182,"data":{"name":"B3"},"resolve":{"axis":{"x":"independent","y":"independent"}},"layer":[
{"mark":{"type":"area","interpolate":"step-after","color":"#bdbdbd"},"encoding":{"x":{"field":"x","type":"quantitative","scale":{"domain":[0,4],"nice":false},"axis":{"values":[0,1,2,3,4],"labelExpr":"'10'+['⁰','¹','²','³','⁴'][datum.value]","title":null}},"y":{"field":"m","type":"quantitative","scale":{"domain":[0,15],"nice":false},"axis":{"values":[0,1,2,3,4,5,6,7,8,9,10,11,12,13,14,15],"labelExpr":"datum.value%5==0?datum.label:''","title":null}}}},
{"mark":{"type":"area","interpolate":"step-after","color":"#5e5e5e"},"encoding":{"x":{"field":"x","type":"quantitative","axis":null},"y":{"field":"g","type":"quantitative","axis":null}}},
{"mark":{"type":"line","interpolate":"step-after","color":"#e60000","strokeWidth":1.4},"encoding":{"x":{"field":"x","type":"quantitative","axis":null},"y":{"field":"r","type":"quantitative","axis":null}}},
{"mark":{"type":"rule","color":"#8a8a8a"},"encoding":{"x":{"field":"gx","type":"quantitative","axis":null},"x2":{"field":"gx2"},"y":{"field":"gy","type":"quantitative","axis":null}}},
{"mark":{"type":"tick","orient":"vertical","color":"#8a8a8a","size":8,"thickness":1},"encoding":{"x":{"field":"gx","type":"quantitative","axis":null},"y":{"field":"gy","type":"quantitative","axis":null}}}
]},
{"width":181.5,"height":182,"data":{"name":"B4"},"resolve":{"axis":{"x":"independent","y":"independent"}},"layer":[
{"mark":{"type":"area","interpolate":"step-after","color":"#bdbdbd"},"encoding":{"x":{"field":"x","type":"quantitative","scale":{"domain":[0,4],"nice":false},"axis":{"values":[0,1,2,3,4],"labelExpr":"'10'+['⁰','¹','²','³','⁴'][datum.value]","title":null}},"y":{"field":"m","type":"quantitative","scale":{"domain":[0,15],"nice":false},"axis":{"values":[0,1,2,3,4,5,6,7,8,9,10,11,12,13,14,15],"labelExpr":"datum.value%5==0?datum.label:''","title":null}}}},
{"mark":{"type":"area","interpolate":"step-after","color":"#5e5e5e"},"encoding":{"x":{"field":"x","type":"quantitative","axis":null},"y":{"field":"g","type":"quantitative","axis":null}}},
{"mark":{"type":"line","interpolate":"step-after","color":"#e60000","strokeWidth":1.4},"encoding":{"x":{"field":"x","type":"quantitative","axis":null},"y":{"field":"r","type":"quantitative","axis":null}}},
{"mark":{"type":"rule","color":"#8a8a8a"},"encoding":{"x":{"field":"gx","type":"quantitative","axis":null},"x2":{"field":"gx2"},"y":{"field":"gy","type":"quantitative","axis":null}}},
{"mark":{"type":"tick","orient":"vertical","color":"#8a8a8a","size":8,"thickness":1},"encoding":{"x":{"field":"gx","type":"quantitative","axis":null},"y":{"field":"gy","type":"quantitative","axis":null}}},
{"mark":{"type":"tick","orient":"vertical","color":"#8a8a8a","size":8,"thickness":1},"encoding":{"x":{"field":"ge","type":"quantitative","axis":null},"y":{"field":"gy","type":"quantitative","axis":null}}}
]},
{"width":181.5,"height":182,"data":{"name":"B5"},"resolve":{"axis":{"x":"independent","y":"independent"}},"layer":[
{"mark":{"type":"area","interpolate":"step-after","color":"#bdbdbd"},"encoding":{"x":{"field":"x","type":"quantitative","scale":{"domain":[0,4],"nice":false},"axis":{"values":[0,1,2,3,4],"labelExpr":"'10'+['⁰','¹','²','³','⁴'][datum.value]","title":null}},"y":{"field":"m","type":"quantitative","scale":{"domain":[0,15],"nice":false},"axis":{"values":[0,1,2,3,4,5,6,7,8,9,10,11,12,13,14,15],"labelExpr":"datum.value%5==0?datum.label:''","title":null}}}},
{"mark":{"type":"area","interpolate":"step-after","color":"#5e5e5e"},"encoding":{"x":{"field":"x","type":"quantitative","axis":null},"y":{"field":"g","type":"quantitative","axis":null}}},
{"mark":{"type":"line","interpolate":"step-after","color":"#e60000","strokeWidth":1.4},"encoding":{"x":{"field":"x","type":"quantitative","axis":null},"y":{"field":"r","type":"quantitative","axis":null}}},
{"mark":{"type":"rule","color":"#8a8a8a"},"encoding":{"x":{"field":"gx","type":"quantitative","axis":null},"x2":{"field":"gx2"},"y":{"field":"gy","type":"quantitative","axis":null}}},
{"mark":{"type":"tick","orient":"vertical","color":"#8a8a8a","size":8,"thickness":1},"encoding":{"x":{"field":"gx","type":"quantitative","axis":null},"y":{"field":"gy","type":"quantitative","axis":null}}}
]}
], "columns": 5, "align": "each", "spacing": {"row": 16, "column": 7}},
{"concat": [
{"width":181.5,"height":182,"data":{"name":"C1"},"title":"COPD","resolve":{"axis":{"x":"independent","y":"independent"}},"layer":[
{"mark":{"type":"area","interpolate":"step-after","color":"#bdbdbd"},"encoding":{"x":{"field":"x","type":"quantitative","scale":{"domain":[0,4],"nice":false},"axis":{"values":[0,1,2,3,4],"labelExpr":"'10'+['⁰','¹','²','³','⁴'][datum.value]","title":null}},"y":{"field":"m","type":"quantitative","scale":{"domain":[0,15],"nice":false},"axis":{"values":[0,1,2,3,4,5,6,7,8,9,10,11,12,13,14,15],"labelExpr":"datum.value%5==0?datum.label:''","title":"Counts"}}}},
{"mark":{"type":"area","interpolate":"step-after","color":"#5e5e5e"},"encoding":{"x":{"field":"x","type":"quantitative","axis":null},"y":{"field":"g","type":"quantitative","axis":null}}},
{"mark":{"type":"line","interpolate":"step-after","color":"#e60000","strokeWidth":1.4},"encoding":{"x":{"field":"x","type":"quantitative","axis":null},"y":{"field":"r","type":"quantitative","axis":null}}},
{"mark":{"type":"rule","color":"#8a8a8a"},"encoding":{"x":{"field":"gx","type":"quantitative","axis":null},"x2":{"field":"gx2"},"y":{"field":"gy","type":"quantitative","axis":null}}},
{"mark":{"type":"tick","orient":"vertical","color":"#8a8a8a","size":8,"thickness":1},"encoding":{"x":{"field":"gx","type":"quantitative","axis":{"orient":"top","title":"CD80","labels":false,"ticks":false,"domain":false,"titleFontSize":17,"titleFontWeight":"bold","titleColor":"#000000","titlePadding":24}},"y":{"field":"gy","type":"quantitative","axis":null}}}
]},
{"width":181.5,"height":182,"data":{"name":"C2"},"resolve":{"axis":{"x":"independent","y":"independent"}},"layer":[
{"mark":{"type":"area","interpolate":"step-after","color":"#bdbdbd"},"encoding":{"x":{"field":"x","type":"quantitative","scale":{"domain":[0,4],"nice":false},"axis":{"values":[0,1,2,3,4],"labelExpr":"'10'+['⁰','¹','²','³','⁴'][datum.value]","title":null}},"y":{"field":"m","type":"quantitative","scale":{"domain":[0,15],"nice":false},"axis":{"values":[0,1,2,3,4,5,6,7,8,9,10,11,12,13,14,15],"labelExpr":"datum.value%5==0?datum.label:''","title":null}}}},
{"mark":{"type":"area","interpolate":"step-after","color":"#5e5e5e"},"encoding":{"x":{"field":"x","type":"quantitative","axis":null},"y":{"field":"g","type":"quantitative","axis":null}}},
{"mark":{"type":"line","interpolate":"step-after","color":"#e60000","strokeWidth":1.4},"encoding":{"x":{"field":"x","type":"quantitative","axis":null},"y":{"field":"r","type":"quantitative","axis":null}}},
{"mark":{"type":"rule","color":"#8a8a8a"},"encoding":{"x":{"field":"gx","type":"quantitative","axis":null},"x2":{"field":"gx2"},"y":{"field":"gy","type":"quantitative","axis":null}}},
{"mark":{"type":"tick","orient":"vertical","color":"#8a8a8a","size":8,"thickness":1},"encoding":{"x":{"field":"gx","type":"quantitative","axis":{"orient":"top","title":"CD83","labels":false,"ticks":false,"domain":false,"titleFontSize":17,"titleFontWeight":"bold","titleColor":"#000000","titlePadding":24}},"y":{"field":"gy","type":"quantitative","axis":null}}}
]},
{"width":181.5,"height":182,"data":{"name":"C3"},"resolve":{"axis":{"x":"independent","y":"independent"}},"layer":[
{"mark":{"type":"area","interpolate":"step-after","color":"#bdbdbd"},"encoding":{"x":{"field":"x","type":"quantitative","scale":{"domain":[0,4],"nice":false},"axis":{"values":[0,1,2,3,4],"labelExpr":"'10'+['⁰','¹','²','³','⁴'][datum.value]","title":null}},"y":{"field":"m","type":"quantitative","scale":{"domain":[0,15],"nice":false},"axis":{"values":[0,1,2,3,4,5,6,7,8,9,10,11,12,13,14,15],"labelExpr":"datum.value%5==0?datum.label:''","title":null}}}},
{"mark":{"type":"area","interpolate":"step-after","color":"#5e5e5e"},"encoding":{"x":{"field":"x","type":"quantitative","axis":null},"y":{"field":"g","type":"quantitative","axis":null}}},
{"mark":{"type":"line","interpolate":"step-after","color":"#e60000","strokeWidth":1.4},"encoding":{"x":{"field":"x","type":"quantitative","axis":null},"y":{"field":"r","type":"quantitative","axis":null}}},
{"mark":{"type":"rule","color":"#8a8a8a"},"encoding":{"x":{"field":"gx","type":"quantitative","axis":null},"x2":{"field":"gx2"},"y":{"field":"gy","type":"quantitative","axis":null}}},
{"mark":{"type":"tick","orient":"vertical","color":"#8a8a8a","size":8,"thickness":1},"encoding":{"x":{"field":"gx","type":"quantitative","axis":{"orient":"top","title":"CD86","labels":false,"ticks":false,"domain":false,"titleFontSize":17,"titleFontWeight":"bold","titleColor":"#000000","titlePadding":24}},"y":{"field":"gy","type":"quantitative","axis":null}}}
]},
{"width":181.5,"height":182,"data":{"name":"C4"},"resolve":{"axis":{"x":"independent","y":"independent"}},"layer":[
{"mark":{"type":"area","interpolate":"step-after","color":"#bdbdbd"},"encoding":{"x":{"field":"x","type":"quantitative","scale":{"domain":[0,4],"nice":false},"axis":{"values":[0,1,2,3,4],"labelExpr":"'10'+['⁰','¹','²','³','⁴'][datum.value]","title":null}},"y":{"field":"m","type":"quantitative","scale":{"domain":[0,15],"nice":false},"axis":{"values":[0,1,2,3,4,5,6,7,8,9,10,11,12,13,14,15],"labelExpr":"datum.value%5==0?datum.label:''","title":null}}}},
{"mark":{"type":"area","interpolate":"step-after","color":"#5e5e5e"},"encoding":{"x":{"field":"x","type":"quantitative","axis":null},"y":{"field":"g","type":"quantitative","axis":null}}},
{"mark":{"type":"line","interpolate":"step-after","color":"#e60000","strokeWidth":1.4},"encoding":{"x":{"field":"x","type":"quantitative","axis":null},"y":{"field":"r","type":"quantitative","axis":null}}},
{"mark":{"type":"rule","color":"#8a8a8a"},"encoding":{"x":{"field":"gx","type":"quantitative","axis":null},"x2":{"field":"gx2"},"y":{"field":"gy","type":"quantitative","axis":null}}},
{"mark":{"type":"tick","orient":"vertical","color":"#8a8a8a","size":8,"thickness":1},"encoding":{"x":{"field":"gx","type":"quantitative","axis":{"orient":"top","title":"Langerin","labels":false,"ticks":false,"domain":false,"titleFontSize":17,"titleFontWeight":"bold","titleColor":"#000000","titlePadding":24}},"y":{"field":"gy","type":"quantitative","axis":null}}}
]},
{"width":181.5,"height":182,"data":{"name":"C5"},"resolve":{"axis":{"x":"independent","y":"independent"}},"layer":[
{"mark":{"type":"area","interpolate":"step-after","color":"#bdbdbd"},"encoding":{"x":{"field":"x","type":"quantitative","scale":{"domain":[0,4],"nice":false},"axis":{"values":[0,1,2,3,4],"labelExpr":"'10'+['⁰','¹','²','³','⁴'][datum.value]","title":null}},"y":{"field":"m","type":"quantitative","scale":{"domain":[0,15],"nice":false},"axis":{"values":[0,1,2,3,4,5,6,7,8,9,10,11,12,13,14,15],"labelExpr":"datum.value%5==0?datum.label:''","title":null}}}},
{"mark":{"type":"area","interpolate":"step-after","color":"#5e5e5e"},"encoding":{"x":{"field":"x","type":"quantitative","axis":null},"y":{"field":"g","type":"quantitative","axis":null}}},
{"mark":{"type":"line","interpolate":"step-after","color":"#e60000","strokeWidth":1.4},"encoding":{"x":{"field":"x","type":"quantitative","axis":null},"y":{"field":"r","type":"quantitative","axis":null}}},
{"mark":{"type":"rule","color":"#8a8a8a"},"encoding":{"x":{"field":"gx","type":"quantitative","axis":null},"x2":{"field":"gx2"},"y":{"field":"gy","type":"quantitative","axis":null}}},
{"mark":{"type":"tick","orient":"vertical","color":"#8a8a8a","size":8,"thickness":1},"encoding":{"x":{"field":"gx","type":"quantitative","axis":{"orient":"top","title":"MMR","labels":false,"ticks":false,"domain":false,"titleFontSize":17,"titleFontWeight":"bold","titleColor":"#000000","titlePadding":24}},"y":{"field":"gy","type":"quantitative","axis":null}}}
]},
{"width":181.5,"height":182,"data":{"name":"D1"},"title":"Control","resolve":{"axis":{"x":"independent","y":"independent"}},"layer":[
{"mark":{"type":"area","interpolate":"step-after","color":"#bdbdbd"},"encoding":{"x":{"field":"x","type":"quantitative","scale":{"domain":[0,4],"nice":false},"axis":{"values":[0,1,2,3,4],"labelExpr":"'10'+['⁰','¹','²','³','⁴'][datum.value]","title":null}},"y":{"field":"m","type":"quantitative","scale":{"domain":[0,15],"nice":false},"axis":{"values":[0,1,2,3,4,5,6,7,8,9,10,11,12,13,14,15],"labelExpr":"datum.value%5==0?datum.label:''","title":"Counts"}}}},
{"mark":{"type":"area","interpolate":"step-after","color":"#5e5e5e"},"encoding":{"x":{"field":"x","type":"quantitative","axis":null},"y":{"field":"g","type":"quantitative","axis":null}}},
{"mark":{"type":"line","interpolate":"step-after","color":"#e60000","strokeWidth":1.4},"encoding":{"x":{"field":"x","type":"quantitative","axis":null},"y":{"field":"r","type":"quantitative","axis":null}}},
{"mark":{"type":"rule","color":"#404040"},"encoding":{"x":{"field":"gx","type":"quantitative","axis":null},"x2":{"field":"gx2"},"y":{"field":"gy","type":"quantitative","axis":null}}},
{"mark":{"type":"tick","orient":"vertical","color":"#404040","size":8,"thickness":1},"encoding":{"x":{"field":"gx","type":"quantitative","axis":null},"y":{"field":"gy","type":"quantitative","axis":null}}}
]},
{"width":181.5,"height":182,"data":{"name":"D2"},"resolve":{"axis":{"x":"independent","y":"independent"}},"layer":[
{"mark":{"type":"area","interpolate":"step-after","color":"#bdbdbd"},"encoding":{"x":{"field":"x","type":"quantitative","scale":{"domain":[0,4],"nice":false},"axis":{"values":[0,1,2,3,4],"labelExpr":"'10'+['⁰','¹','²','³','⁴'][datum.value]","title":null}},"y":{"field":"m","type":"quantitative","scale":{"domain":[0,15],"nice":false},"axis":{"values":[0,1,2,3,4,5,6,7,8,9,10,11,12,13,14,15],"labelExpr":"datum.value%5==0?datum.label:''","title":null}}}},
{"mark":{"type":"area","interpolate":"step-after","color":"#5e5e5e"},"encoding":{"x":{"field":"x","type":"quantitative","axis":null},"y":{"field":"g","type":"quantitative","axis":null}}},
{"mark":{"type":"line","interpolate":"step-after","color":"#e60000","strokeWidth":1.4},"encoding":{"x":{"field":"x","type":"quantitative","axis":null},"y":{"field":"r","type":"quantitative","axis":null}}},
{"mark":{"type":"rule","color":"#8a8a8a"},"encoding":{"x":{"field":"gx","type":"quantitative","axis":null},"x2":{"field":"gx2"},"y":{"field":"gy","type":"quantitative","axis":null}}},
{"mark":{"type":"tick","orient":"vertical","color":"#8a8a8a","size":8,"thickness":1},"encoding":{"x":{"field":"gx","type":"quantitative","axis":null},"y":{"field":"gy","type":"quantitative","axis":null}}},
{"mark":{"type":"tick","orient":"vertical","color":"#8a8a8a","size":8,"thickness":1},"encoding":{"x":{"field":"ge","type":"quantitative","axis":null},"y":{"field":"gy","type":"quantitative","axis":null}}}
]},
{"width":181.5,"height":182,"data":{"name":"D3"},"resolve":{"axis":{"x":"independent","y":"independent"}},"layer":[
{"mark":{"type":"area","interpolate":"step-after","color":"#bdbdbd"},"encoding":{"x":{"field":"x","type":"quantitative","scale":{"domain":[0,4],"nice":false},"axis":{"values":[0,1,2,3,4],"labelExpr":"'10'+['⁰','¹','²','³','⁴'][datum.value]","title":null}},"y":{"field":"m","type":"quantitative","scale":{"domain":[0,15],"nice":false},"axis":{"values":[0,1,2,3,4,5,6,7,8,9,10,11,12,13,14,15],"labelExpr":"datum.value%5==0?datum.label:''","title":null}}}},
{"mark":{"type":"area","interpolate":"step-after","color":"#5e5e5e"},"encoding":{"x":{"field":"x","type":"quantitative","axis":null},"y":{"field":"g","type":"quantitative","axis":null}}},
{"mark":{"type":"line","interpolate":"step-after","color":"#e60000","strokeWidth":1.4},"encoding":{"x":{"field":"x","type":"quantitative","axis":null},"y":{"field":"r","type":"quantitative","axis":null}}},
{"mark":{"type":"rule","color":"#404040"},"encoding":{"x":{"field":"gx","type":"quantitative","axis":null},"x2":{"field":"gx2"},"y":{"field":"gy","type":"quantitative","axis":null}}},
{"mark":{"type":"tick","orient":"vertical","color":"#404040","size":8,"thickness":1},"encoding":{"x":{"field":"gx","type":"quantitative","axis":null},"y":{"field":"gy","type":"quantitative","axis":null}}}
]},
{"width":181.5,"height":182,"data":{"name":"D4"},"resolve":{"axis":{"x":"independent","y":"independent"}},"layer":[
{"mark":{"type":"area","interpolate":"step-after","color":"#bdbdbd"},"encoding":{"x":{"field":"x","type":"quantitative","scale":{"domain":[0,4],"nice":false},"axis":{"values":[0,1,2,3,4],"labelExpr":"'10'+['⁰','¹','²','³','⁴'][datum.value]","title":null}},"y":{"field":"m","type":"quantitative","scale":{"domain":[0,15],"nice":false},"axis":{"values":[0,1,2,3,4,5,6,7,8,9,10,11,12,13,14,15],"labelExpr":"datum.value%5==0?datum.label:''","title":null}}}},
{"mark":{"type":"area","interpolate":"step-after","color":"#5e5e5e"},"encoding":{"x":{"field":"x","type":"quantitative","axis":null},"y":{"field":"g","type":"quantitative","axis":null}}},
{"mark":{"type":"line","interpolate":"step-after","color":"#e60000","strokeWidth":1.4},"encoding":{"x":{"field":"x","type":"quantitative","axis":null},"y":{"field":"r","type":"quantitative","axis":null}}},
{"mark":{"type":"rule","color":"#8a8a8a"},"encoding":{"x":{"field":"gx","type":"quantitative","axis":null},"x2":{"field":"gx2"},"y":{"field":"gy","type":"quantitative","axis":null}}},
{"mark":{"type":"tick","orient":"vertical","color":"#8a8a8a","size":8,"thickness":1},"encoding":{"x":{"field":"gx","type":"quantitative","axis":null},"y":{"field":"gy","type":"quantitative","axis":null}}}
]},
{"width":181.5,"height":182,"data":{"name":"D5"},"resolve":{"axis":{"x":"independent","y":"independent"}},"layer":[
{"mark":{"type":"area","interpolate":"step-after","color":"#bdbdbd"},"encoding":{"x":{"field":"x","type":"quantitative","scale":{"domain":[0,4],"nice":false},"axis":{"values":[0,1,2,3,4],"labelExpr":"'10'+['⁰','¹','²','³','⁴'][datum.value]","title":null}},"y":{"field":"m","type":"quantitative","scale":{"domain":[0,15],"nice":false},"axis":{"values":[0,1,2,3,4,5,6,7,8,9,10,11,12,13,14,15],"labelExpr":"datum.value%5==0?datum.label:''","title":null}}}},
{"mark":{"type":"area","interpolate":"step-after","color":"#5e5e5e"},"encoding":{"x":{"field":"x","type":"quantitative","axis":null},"y":{"field":"g","type":"quantitative","axis":null}}},
{"mark":{"type":"line","interpolate":"step-after","color":"#e60000","strokeWidth":1.4},"encoding":{"x":{"field":"x","type":"quantitative","axis":null},"y":{"field":"r","type":"quantitative","axis":null}}},
{"mark":{"type":"rule","color":"#404040"},"encoding":{"x":{"field":"gx","type":"quantitative","axis":null},"x2":{"field":"gx2"},"y":{"field":"gy","type":"quantitative","axis":null}}},
{"mark":{"type":"tick","orient":"vertical","color":"#404040","size":8,"thickness":1},"encoding":{"x":{"field":"gx","type":"quantitative","axis":null},"y":{"field":"gy","type":"quantitative","axis":null}}}
]}
], "columns": 5, "align": "each", "spacing": {"row": 14, "column": 7}}
],
"spacing": 60,
"config": {
"font": "Liberation Sans",
"view": {"stroke": "#8c8c8c", "strokeWidth": 1},
"mark": {"invalid": "filter"},
"axis": {"grid": false, "domainColor": "#8c8c8c", "tickColor": "#a0a0a0", "labelColor": "#1a1a1a", "titleColor": "#1a1a1a", "labelOverlap": false, "labelFlush": false, "labelFont": "Liberation Sans", "titleFont": "Liberation Sans"},
"axisX": {"labelFontSize": 16, "labelPadding": 1, "ticks": false},
"axisY": {"labelFontSize": 12, "labelAngle": -90, "labelAlign": "center", "labelBaseline": "bottom", "labelPadding": 2, "tickSize": 3, "titleFontSize": 12, "titleFontWeight": "normal", "titlePadding": 7},
"title": {"fontSize": 19, "fontWeight": "bold", "color": "#000000", "orient": "left", "frame": "group", "anchor": "middle", "offset": 43}
}
}
